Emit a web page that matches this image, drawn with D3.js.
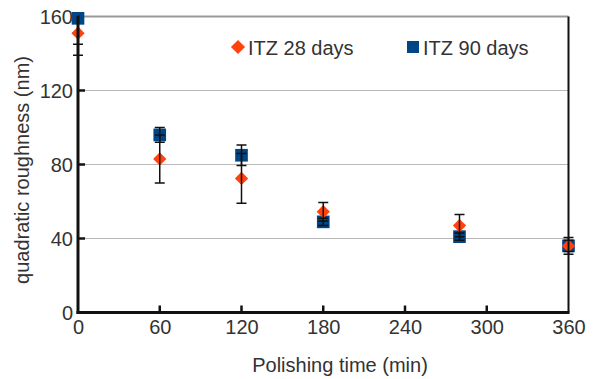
<!DOCTYPE html>
<html>
<head>
<meta charset="utf-8">
<script src="https://cdn.jsdelivr.net/npm/d3@7"></script>
<style>
  html, body { margin: 0; padding: 0; background: #fff; }
  svg { display: block; font-family: "Liberation Sans", Arial, sans-serif; }
</style>
</head>
<body>
<svg id="chart" width="598" height="379"></svg>
<script>
// Polishing time (min) for each measurement
const times = [0, 60, 120, 180, 280, 360];

// ITZ 28 days: mean quadratic roughness (nm) and its error
const itz28 = [151, 83, 72.5, 54.5, 47, 36];
const itz28Err = [12, 13, 13.5, 5, 6, 3];

// ITZ 90 days: mean quadratic roughness (nm) and its error
const itz90 = [159, 96, 85, 49, 41, 36];
const itz90Err = [14, 4, 5.5, 2, 2, 4.5];

const xTicks = [0, 60, 120, 180, 240, 300, 360];
const yTicks = [0, 40, 80, 120, 160];

const svg = d3.select("#chart");
const plotLeft = 78, plotRight = 568.5, plotTop = 16.5, plotBottom = 312.5;

const x = d3.scaleLinear().domain([0, 360]).range([plotLeft, plotRight]);
const y = d3.scaleLinear().domain([0, 160]).range([plotBottom, plotTop]);

const textColor = "#333";

// horizontal grid lines
svg.append("g")
  .selectAll("line")
  .data(yTicks.filter(v => v > 0 && v < 160))
  .join("line")
  .attr("x1", plotLeft).attr("x2", plotRight)
  .attr("y1", d => y(d)).attr("y2", d => y(d))
  .attr("stroke", "#b8b8b8").attr("stroke-width", 1);

// top frame line (grid at 160)
svg.append("line")
  .attr("x1", plotLeft).attr("x2", plotRight)
  .attr("y1", y(160)).attr("y2", y(160))
  .attr("stroke", "#999").attr("stroke-width", 2);

// right frame line
svg.append("line")
  .attr("x1", plotRight).attr("x2", plotRight)
  .attr("y1", y(160)).attr("y2", y(0))
  .attr("stroke", "#111").attr("stroke-width", 2);

// clip for error bars
svg.append("defs").append("clipPath").attr("id", "plot")
  .append("rect")
  .attr("x", plotLeft - 10).attr("y", plotTop)
  .attr("width", plotRight - plotLeft + 20).attr("height", plotBottom - plotTop);

// a diamond is a square turned by 45 degrees
const series = [
  { name: "ITZ 90 days", vals: itz90, errs: itz90Err, color: "#004586", size: 160, rot: 0 },
  { name: "ITZ 28 days", vals: itz28, errs: itz28Err, color: "#ff420e", size: 88, rot: 45 }
];

// markers: squares first, diamonds over them
series.forEach(s => {
  svg.append("g")
    .selectAll("path")
    .data(times.map((t, i) => ({ t, v: s.vals[i] })))
    .join("path")
    .attr("d", d3.symbol().type(d3.symbolSquare).size(s.size))
    .attr("transform", d => `translate(${x(d.t)},${y(d.v)}) rotate(${s.rot})`)
    .attr("fill", s.color);
});

// error bars on top of markers
const eb = svg.append("g").attr("clip-path", "url(#plot)");
series.forEach(s => {
  times.forEach((t, i) => {
    const cx = x(t), lo = y(s.vals[i] - s.errs[i]), hi = y(s.vals[i] + s.errs[i]);
    const g = eb.append("g").attr("stroke", "#111").attr("stroke-width", 1.5);
    g.append("line").attr("x1", cx).attr("x2", cx).attr("y1", lo).attr("y2", hi);
    g.append("line").attr("x1", cx - 5).attr("x2", cx + 5).attr("y1", lo).attr("y2", lo);
    g.append("line").attr("x1", cx - 5).attr("x2", cx + 5).attr("y1", hi).attr("y2", hi);
  });
});

// axes
const xAxis = d3.axisBottom(x).tickValues(xTicks).tickSize(0).tickPadding(0);
const gx = svg.append("g").attr("transform", `translate(0,${plotBottom})`).call(xAxis);
gx.select(".domain").remove();
gx.selectAll("text")
  .attr("font-size", 20).attr("fill", textColor)
  .attr("dy", null).attr("y", 21.5);

const yAxis = d3.axisLeft(y).tickValues(yTicks).tickSize(0).tickPadding(0);
const gy = svg.append("g").attr("transform", `translate(${plotLeft},0)`).call(yAxis);
gy.select(".domain").remove();
gy.selectAll("text")
  .attr("font-size", 20).attr("fill", textColor)
  .attr("x", -5).attr("dy", "0.35em");

// inward tick marks
svg.append("g").selectAll("line").data(xTicks.filter(v => v > 0 && v < 360)).join("line")
  .attr("x1", d => x(d)).attr("x2", d => x(d))
  .attr("y1", plotBottom).attr("y2", plotBottom - 7)
  .attr("stroke", "#111").attr("stroke-width", 2.5);
svg.append("g").selectAll("line").data(yTicks.filter(v => v > 0 && v < 160)).join("line")
  .attr("x1", plotLeft).attr("x2", plotLeft + 7)
  .attr("y1", d => y(d)).attr("y2", d => y(d))
  .attr("stroke", "#111").attr("stroke-width", 2.5);

// axis lines
svg.append("line")
  .attr("x1", plotLeft).attr("x2", plotLeft).attr("y1", plotTop - 1).attr("y2", plotBottom + 1.5)
  .attr("stroke", "#111").attr("stroke-width", 3);
svg.append("line")
  .attr("x1", plotLeft - 1.5).attr("x2", plotRight + 1).attr("y1", plotBottom).attr("y2", plotBottom)
  .attr("stroke", "#111").attr("stroke-width", 3);

// axis titles
svg.append("text")
  .attr("x", 340).attr("y", 372)
  .attr("text-anchor", "middle").attr("font-size", 20).attr("fill", textColor)
  .text("Polishing time (min)");
svg.append("text")
  .attr("transform", `translate(29,${170}) rotate(-90)`)
  .attr("text-anchor", "middle").attr("font-size", 20).attr("fill", textColor)
  .text("quadratic roughness (nm)");

// legend
const legend = [
  { name: "ITZ 28 days", color: "#ff420e", size: 100, rot: 45, mx: 238, tx: 248 },
  { name: "ITZ 90 days", color: "#004586", size: 144, rot: 0, mx: 413, tx: 423 }
];
const lg = svg.append("g");
legend.forEach(l => {
  lg.append("path")
    .attr("d", d3.symbol().type(d3.symbolSquare).size(l.size))
    .attr("transform", `translate(${l.mx},47) rotate(${l.rot})`)
    .attr("fill", l.color);
  lg.append("text")
    .attr("x", l.tx).attr("y", 54.5)
    .attr("font-size", 20).attr("fill", textColor)
    .text(l.name);
});
</script>
</body>
</html>
